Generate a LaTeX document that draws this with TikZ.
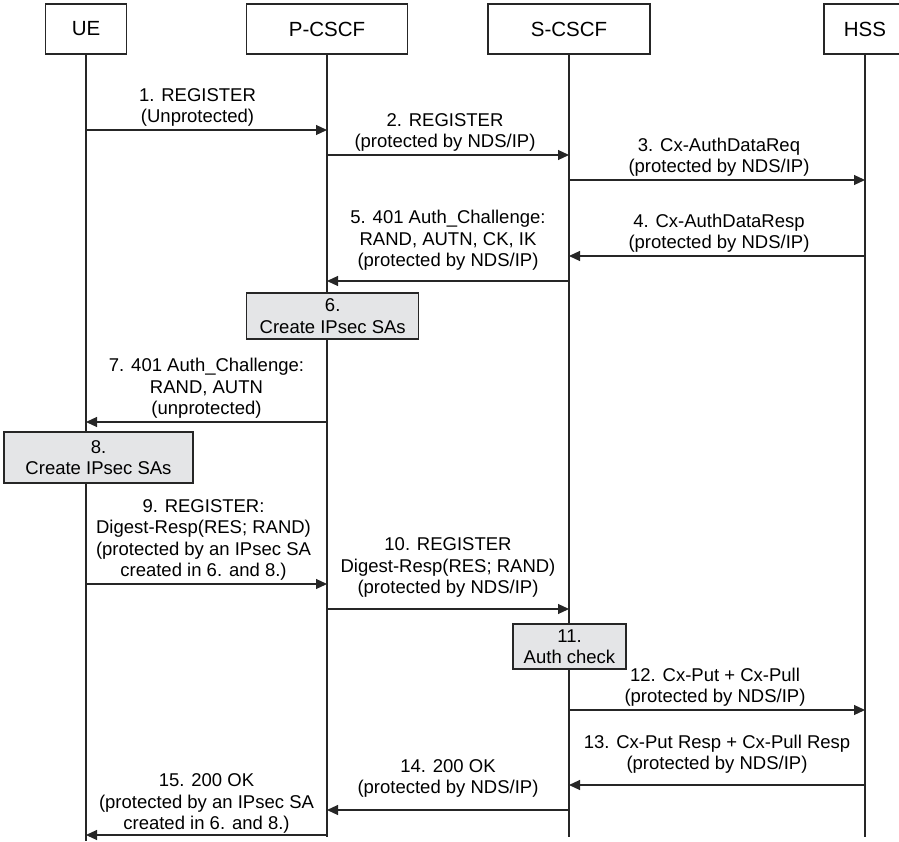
\documentclass[tikz,border=0pt]{standalone}
\usepackage{fontspec}
\setmainfont{Liberation Sans}
\usetikzlibrary{arrows.meta}
\definecolor{ink}{HTML}{262626}
\definecolor{shade}{HTML}{E4E5E7}

\begin{document}
\begin{tikzpicture}[x=1pt,y=-1pt,text=black,
  font=\fontsize{18.5}{21.5}\selectfont,
  entity/.style={draw=ink,line width=1.1pt,minimum height=50pt,
    font=\fontsize{20.5}{24}\selectfont},
  action/.style={draw=ink,line width=1.1pt,fill=shade,align=center,
    inner sep=0pt},
  life/.style={draw=ink,line width=1.1pt},
  msg/.style={draw=ink,line width=1.1pt,
    -{Triangle[length=11pt,width=10pt]}},
  lbl/.style={align=center,above,inner sep=3pt}]
  \clip (0,0) rectangle (899,842);

  % Entities and lifelines
  \node[entity,minimum width=81pt] (UE) at (86,29) {UE};
  \node[entity,minimum width=161pt] (PC) at (327,29) {P-CSCF};
  \node[entity,minimum width=162pt] (SC) at (569,29) {S-CSCF};
  \node[entity,minimum width=82pt] (HS) at (865,29) {HSS};

  \foreach \lane/\x in {ue/86,pc/327,sc/569,hs/865}
    \foreach \n/\y in {1/130,2/155,3/180,4/256,5/281,7/422,9/584,
                       10/609,12/710,13/785,14/810,15/835,end/837}
      \coordinate (\lane\n) at (\x,\y);
  \coordinate (ueend) at (86,841);

  \draw[life] (UE.south) -- (ueend);
  \draw[life] (PC.south) -- (pcend);
  \draw[life] (SC.south) -- (scend);
  \draw[life] (HS.south) -- (hsend);

  % Local actions
  \node[action,minimum width=172pt,minimum height=46pt] (sa6)
    at (332.7,316) {6.\\Create IPsec SAs};
  \node[action,minimum width=189pt,minimum height=51pt] (sa8)
    at (98.5,457.5) {8.\\Create IPsec SAs};
  \node[action,minimum width=113pt,minimum height=45pt] (chk11)
    at (569.5,646.5) {11.\\Auth check};

  % Messages
  \draw[msg] (ue1) -- (pc1)
    node[lbl,midway,xshift=-9pt] {1. REGISTER\\(Unprotected)};
  \draw[msg] (pc2) -- (sc2)
    node[lbl,midway,xshift=-3pt] {2. REGISTER\\(protected by NDS/IP)};
  \draw[msg] (sc3) -- (hs3)
    node[lbl,midway,xshift=2pt] {3. Cx-AuthDataReq\\(protected by NDS/IP)};
  \draw[msg] (hs4) -- (sc4)
    node[lbl,midway,xshift=2pt] {4. Cx-AuthDataResp\\(protected by NDS/IP)};
  \draw[msg] (sc5) -- (pc5)
    node[lbl,midway,yshift=7pt]
    {5. 401 Auth\_Challenge:\\RAND, AUTN, CK, IK\\(protected by NDS/IP)};
  \draw[msg] (pc7) -- (ue7)
    node[lbl,midway] {7. 401 Auth\_Challenge:\\RAND, AUTN\\(unprotected)};
  \draw[msg] (ue9) -- (pc9)
    node[lbl,midway,xshift=-3pt]
    {9. REGISTER:\\Digest-Resp(RES; RAND)\\(protected by an IPsec SA\\created in 6. and 8.)};
  \draw[msg] (pc10) -- (sc10)
    node[lbl,midway,yshift=8pt]
    {10. REGISTER\\Digest-Resp(RES; RAND)\\(protected by NDS/IP)};
  \draw[msg] (sc12) -- (hs12)
    node[lbl,midway,xshift=-2pt] {12. Cx-Put + Cx-Pull\\(protected by NDS/IP)};
  \draw[msg] (hs13) -- (sc13)
    node[lbl,midway,yshift=8pt]
    {13. Cx-Put Resp + Cx-Pull Resp\\(protected by NDS/IP)};
  \draw[msg] (sc14) -- (pc14)
    node[lbl,midway,yshift=9pt] {14. 200 OK\\(protected by NDS/IP)};
  \draw[msg] (pc15) -- (ue15)
    node[lbl,midway,yshift=-2pt]
    {15. 200 OK\\(protected by an IPsec SA\\created in 6. and 8.)};
\end{tikzpicture}
\end{document}
